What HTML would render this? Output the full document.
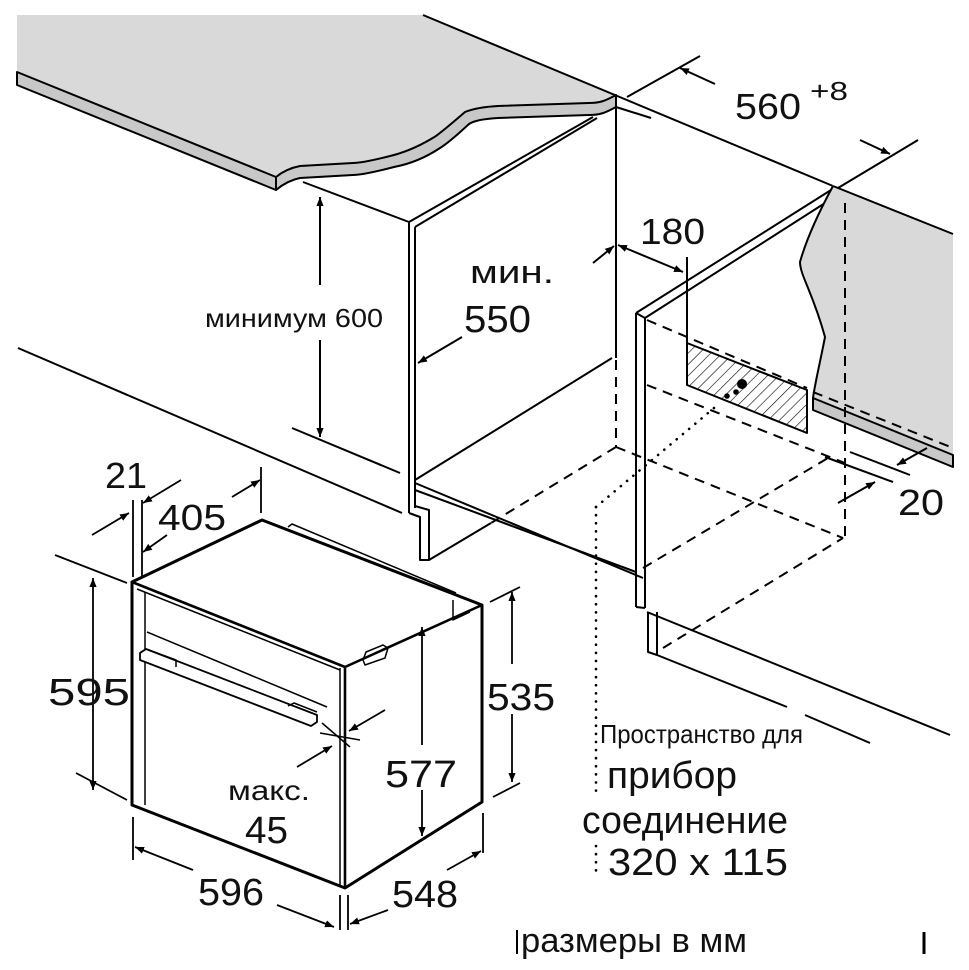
<!DOCTYPE html>
<html><head><meta charset="utf-8"><style>
html,body{margin:0;padding:0;background:#fff}
svg{display:block}
text{font-family:"Liberation Sans","Noto Sans CJK SC",sans-serif;fill:#111}
</style></head><body>
<svg width="969" height="970" viewBox="0 0 969 970" xmlns="http://www.w3.org/2000/svg">
<defs>
<marker id="a" viewBox="0 0 10 10" refX="10" refY="5" markerWidth="9" markerHeight="9" orient="auto-start-reverse" markerUnits="userSpaceOnUse"><path d="M0,1 L10,5 L0,9 Z" fill="#000"/></marker>
<pattern id="h" width="8" height="8" patternUnits="userSpaceOnUse" patternTransform="rotate(45)"><line x1="0" y1="0" x2="0" y2="8" stroke="#000" stroke-width="1.2"/></pattern>
</defs>
<g stroke="#000" stroke-width="2" fill="none" stroke-linejoin="round">
<path d="M17,15 L423,15 L616,95 C605,101 600,103 589,103 L498,106 C480,107 470,110 465,112 C450,125 440,133 436,136 C420,146 405,152 394,155 C375,160 360,163 353,163 L300,166 C290,168 282,172 276,177 L17,72 Z" fill="#d9d9d9" stroke="none"/>
<path d="M17,72 L276,177 L276,190 L17,85 Z" fill="#c8c8c8"/>
<path d="M276,177 C282,172 290,168 300,166 L353,163 C360,163 375,160 394,155 C405,152 420,146 436,136 C440,133 450,125 465,112 C470,110 480,107 498,106 L589,103 C600,103 605,101 616,95 L616,107 C605,113 600,115 589,115 L498,118 C480,119 472,122 469,124 C455,137 445,145 440,148 C425,158 410,164 394,167 C375,172 360,175 353,175 L300,178 C290,180 282,185 276,190 Z" fill="#c8c8c8"/>
<line x1="423" y1="15" x2="833" y2="186"/>
<line x1="616" y1="107" x2="651" y2="118"/>
<line x1="627" y1="97" x2="700" y2="56"/>
<line x1="616" y1="107" x2="616" y2="358"/>
<line x1="303" y1="182" x2="409" y2="222"/>
<line x1="409" y1="222" x2="593" y2="117"/>
<line x1="415" y1="227" x2="597" y2="118"/>
<line x1="409" y1="222" x2="409" y2="513"/>
<line x1="415" y1="227" x2="415" y2="508"/>
<path d="M409,513 L420,517 L420,560 L429,560 L429,510 L415,506"/>
<line x1="429" y1="560" x2="491" y2="523"/>
<line x1="415" y1="480" x2="612" y2="358"/>
<line x1="415" y1="483" x2="643" y2="578"/>
<line x1="415" y1="490" x2="636" y2="572"/>
<line x1="18" y1="348" x2="402" y2="513"/>
<line x1="292" y1="428" x2="400" y2="473"/>
<line x1="320" y1="197" x2="320" y2="285" marker-start="url(#a)"/>
<line x1="320" y1="340" x2="320" y2="437" marker-end="url(#a)"/>
<line x1="462" y1="337" x2="418" y2="363" marker-end="url(#a)"/>
<line x1="636" y1="313" x2="831" y2="190"/>
<line x1="645" y1="318" x2="836" y2="196"/>
<line x1="636" y1="313" x2="645" y2="318"/>
<line x1="636" y1="313" x2="636" y2="607"/>
<line x1="645" y1="318" x2="645" y2="608"/>
<line x1="636" y1="607" x2="645" y2="608"/>
<path d="M648,612 L648,652 L657,655 L657,612"/>
<line x1="647" y1="612" x2="950" y2="735"/>
<line x1="657" y1="655" x2="787" y2="707"/>
<line x1="805" y1="715" x2="870" y2="743"/>
<path d="M833,185 L953,233 L953,455 L813,398 C815,383 820,363 825,337 C813,293 800,267 800,260 C807,237 820,210 833,185 Z" fill="#d9d9d9" stroke="none"/>
<path d="M833,186 C820,210 807,237 800,262 C800,275 813,293 825,337 C820,363 815,383 813,398"/>
<line x1="833" y1="186" x2="953" y2="234"/>
<path d="M813,398 L953,455 L953,467 L813,410 Z" fill="#c8c8c8"/>
<line x1="838" y1="188" x2="918" y2="140"/>
<path d="M687,343 L687,385 L807,433 L807,390 Z" fill="url(#h)"/>
<line x1="687" y1="257" x2="687" y2="343"/>
<circle cx="742" cy="384" r="4" fill="#000"/>
<circle cx="736" cy="392" r="1.8" fill="#000"/>
<circle cx="727" cy="396" r="1.8" fill="#000"/>
<line x1="593" y1="263" x2="614" y2="246" marker-end="url(#a)"/>
<line x1="618" y1="245" x2="683" y2="272" marker-start="url(#a)" marker-end="url(#a)"/>
<line x1="680" y1="68" x2="715" y2="84" marker-start="url(#a)"/>
<line x1="860" y1="140" x2="890" y2="154" marker-end="url(#a)"/>
<line x1="927" y1="448" x2="897" y2="465" marker-end="url(#a)"/>
<line x1="838" y1="503" x2="875" y2="482" marker-end="url(#a)"/>
<line x1="850" y1="452" x2="910" y2="475"/>
<line x1="825" y1="457" x2="893" y2="482"/>
</g>
<g stroke="#000" stroke-width="2" fill="none" stroke-dasharray="10,7">
<line x1="616" y1="360" x2="616" y2="447"/>
<line x1="616" y1="447" x2="491" y2="523"/>
<line x1="616" y1="447" x2="843" y2="538"/>
<line x1="845" y1="203" x2="845" y2="538"/>
<line x1="647" y1="320" x2="807" y2="388"/>
<line x1="647" y1="385" x2="845" y2="463"/>
<line x1="813" y1="392" x2="953" y2="448"/>
<line x1="643" y1="568" x2="828" y2="458"/>
<line x1="663" y1="648" x2="843" y2="538"/>
</g>
<g stroke="#000" stroke-width="2.6" fill="none" stroke-dasharray="0.1,8" stroke-linecap="round">
<line x1="596" y1="507" x2="720" y2="403"/>
<line x1="596" y1="507" x2="596" y2="797"/>
<line x1="596" y1="846" x2="596" y2="878"/>
</g>
<g stroke="#000" fill="none" stroke-linejoin="round">
<path d="M132,582 L262,520 L482,605 L482,802 L345,888 L132,805 Z" stroke-width="3" fill="#fff"/>
<path d="M132,582 L345,667 L482,605" stroke-width="2.6"/>
<line x1="345" y1="667" x2="345" y2="888" stroke-width="2.6"/>
<line x1="340" y1="668" x2="340" y2="886" stroke-width="1.5"/>
<line x1="145" y1="592" x2="145" y2="805" stroke-width="1.5"/>
<line x1="137" y1="589" x2="340" y2="670" stroke-width="1.5"/>
<line x1="147" y1="632" x2="327" y2="707" stroke-width="1.5"/>
<path d="M288,527 L292,524 L456,593" stroke-width="1.5"/>
<path d="M453,600 L453,620 L470,612" stroke-width="1.5"/>
<path d="M140,653 L146,649 L317,715 L317,722 L311,726 L140,660 Z" stroke-width="1.8" fill="#fff"/>
<path d="M140,653 L146,649 L176,660 L176,667" stroke-width="1.5"/>
<path d="M288,706 L294,703 L317,712" stroke-width="1.5"/>
<path d="M363,660 L365,665 L385,658 L388,648 L383,645 L366,652 Z" stroke-width="1.5"/>
<line x1="322" y1="723" x2="350" y2="747" stroke-width="1.5"/>
<line x1="320" y1="733" x2="360" y2="740" stroke-width="1.5"/>
</g>
<g stroke="#000" stroke-width="1.8" fill="none">
<line x1="133" y1="500" x2="133" y2="577"/>
<line x1="142" y1="500" x2="142" y2="577"/>
<line x1="261" y1="467" x2="261" y2="513"/>
<line x1="92" y1="535" x2="129" y2="513" marker-end="url(#a)"/>
<line x1="181" y1="480" x2="143" y2="503" marker-end="url(#a)"/>
<line x1="167" y1="535" x2="143" y2="552" marker-end="url(#a)"/>
<line x1="232" y1="497" x2="260" y2="480" marker-end="url(#a)"/>
<line x1="55" y1="555" x2="127" y2="583"/>
<line x1="76" y1="773" x2="127" y2="800"/>
<line x1="93" y1="578" x2="93" y2="790" marker-start="url(#a)" marker-end="url(#a)"/>
<line x1="490" y1="602" x2="520" y2="587"/>
<line x1="493" y1="797" x2="520" y2="783"/>
<line x1="512" y1="592" x2="512" y2="664" marker-start="url(#a)"/>
<line x1="512" y1="714" x2="512" y2="782" marker-end="url(#a)"/>
<line x1="422" y1="627" x2="422" y2="745" marker-start="url(#a)"/>
<line x1="422" y1="790" x2="422" y2="836" marker-end="url(#a)"/>
<line x1="385" y1="710" x2="349" y2="731" marker-end="url(#a)"/>
<line x1="297" y1="767" x2="332" y2="746" marker-end="url(#a)"/>
<line x1="133" y1="817" x2="133" y2="860"/>
<line x1="193" y1="870" x2="135" y2="847" marker-end="url(#a)"/>
<line x1="277" y1="905" x2="334" y2="927" marker-end="url(#a)"/>
<line x1="340" y1="895" x2="340" y2="930"/>
<line x1="348" y1="895" x2="348" y2="930"/>
<line x1="483" y1="813" x2="483" y2="853"/>
<line x1="447" y1="870" x2="481" y2="851" marker-end="url(#a)"/>
<line x1="388" y1="910" x2="350" y2="924" marker-end="url(#a)"/>
</g>
<line x1="517" y1="930" x2="517" y2="954" stroke="#000" stroke-width="2"/>
<line x1="924" y1="932" x2="924" y2="954" stroke="#000" stroke-width="3"/>
<text x="205" y="327" font-size="26" textLength="178" lengthAdjust="spacingAndGlyphs">минимум 600</text>
<text x="470" y="283" font-size="32" textLength="84" lengthAdjust="spacingAndGlyphs">мин.</text>
<text x="464" y="332" font-size="38" textLength="67" lengthAdjust="spacingAndGlyphs">550</text>
<text x="640" y="244" font-size="36" textLength="65" lengthAdjust="spacingAndGlyphs">180</text>
<text x="735" y="119" font-size="36" textLength="66" lengthAdjust="spacingAndGlyphs">560</text>
<text x="810" y="100" font-size="26" textLength="38" lengthAdjust="spacingAndGlyphs">+8</text>
<text x="898" y="515" font-size="36" textLength="46" lengthAdjust="spacingAndGlyphs">20</text>
<text x="105" y="488" font-size="36" textLength="42" lengthAdjust="spacingAndGlyphs">21</text>
<text x="158" y="530" font-size="36" textLength="68" lengthAdjust="spacingAndGlyphs">405</text>
<text x="48" y="705" font-size="38" textLength="82" lengthAdjust="spacingAndGlyphs">595</text>
<text x="487" y="710" font-size="38" textLength="68" lengthAdjust="spacingAndGlyphs">535</text>
<text x="385" y="787" font-size="38" textLength="72" lengthAdjust="spacingAndGlyphs">577</text>
<text x="228" y="800" font-size="28" textLength="82" lengthAdjust="spacingAndGlyphs">макс.</text>
<text x="245" y="843" font-size="38" textLength="43" lengthAdjust="spacingAndGlyphs">45</text>
<text x="198" y="905" font-size="38" textLength="66" lengthAdjust="spacingAndGlyphs">596</text>
<text x="392" y="907" font-size="38" textLength="66" lengthAdjust="spacingAndGlyphs">548</text>
<text x="600" y="743" font-size="26" textLength="203" lengthAdjust="spacingAndGlyphs">Пространство для</text>
<text x="607" y="788" font-size="38" textLength="130" lengthAdjust="spacingAndGlyphs">прибор</text>
<text x="582" y="833" font-size="38" textLength="206" lengthAdjust="spacingAndGlyphs">соединение</text>
<text x="608" y="875" font-size="38" textLength="180" lengthAdjust="spacingAndGlyphs">320 x 115</text>
<text x="521" y="952" font-size="34" textLength="226" lengthAdjust="spacingAndGlyphs">размеры в мм</text>
</svg>
</body></html>
